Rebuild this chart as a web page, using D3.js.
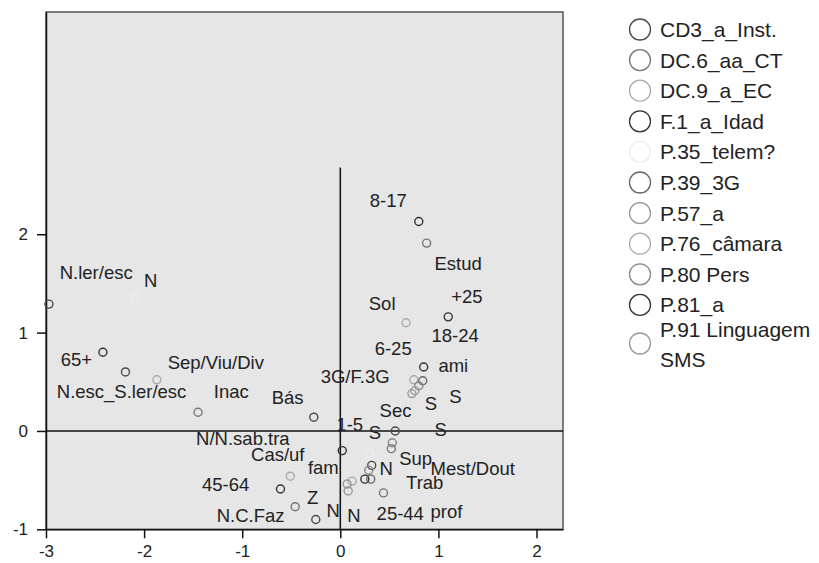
<!DOCTYPE html>
<html>
<head>
<meta charset="utf-8">
<script src="https://cdn.jsdelivr.net/npm/d3@7"></script>
<style>
  body { margin: 0; background: #fff; }
  text { font-family: "Liberation Sans", Arial, sans-serif; }
</style>
</head>
<body>
<svg id="chart" width="819" height="563"></svg>
<script>
  'use strict';

  // legend series, in order
  var series = ['CD3_a_Inst.', 'DC.6_aa_CT', 'DC.9_a_EC', 'F.1_a_Idad', 'P.35_telem?',
    'P.39_3G', 'P.57_a', 'P.76_câmara', 'P.80 Pers', 'P.81_a', 'P.91 Linguagem SMS'];
  var seriesColor = ['#4a4a4a', '#777', '#aaa', '#333', '#eee',
    '#666', '#999', '#aaa', '#888', '#333', '#999'];

  // category points: [series index, category, dim1, dim2]
  var points = [
    [0, 'N.ler/esc', -2.97, 1.29],
    [4, 'N', -2.09, 1.36],
    [3, '65+', -2.42, 0.80],
    [0, 'N.esc_S.ler/esc', -2.19, 0.60],
    [2, 'Sep/Viu/Div', -1.87, 0.52],
    [1, 'Inac', -1.45, 0.19],
    [0, 'Bás', -0.27, 0.14],
    [3, '8-17', 0.80, 2.13],
    [1, 'Estud', 0.88, 1.91],
    [3, '18-24', 1.10, 1.16],
    [2, 'Sol', 0.67, 1.10],
    [9, 'ami', 0.85, 0.65],
    [7, 'S', 0.75, 0.52],
    [5, '3G/F.3G', 0.84, 0.51],
    [8, '6-25', 0.80, 0.46],
    [6, 'S', 0.76, 0.41],
    [10, 'S', 0.73, 0.38],
    [0, 'Sec', 0.56, 0.00],
    [8, '+25', 0.53, -0.12],
    [1, 'N/N.sab.tra', 0.52, -0.18],
    [9, 'fam', 0.02, -0.20],
    [4, 'S', 0.30, -0.23],
    [0, 'Sup', 0.32, -0.35],
    [8, '1-5', 0.29, -0.40],
    [3, '25-44', 0.25, -0.49],
    [5, 'N', 0.31, -0.49],
    [7, 'N', 0.12, -0.51],
    [6, 'N', 0.07, -0.54],
    [10, 'N', 0.08, -0.61],
    [2, 'Cas/uf', -0.51, -0.46],
    [3, '45-64', -0.61, -0.59],
    [1, 'N.C.Faz', -0.46, -0.77],
    [0, 'Mest/Dout', -0.25, -0.90],
    [1, 'Trab', 0.44, -0.63]
  ];

  // point labels as placed in the plot: [text, dim1, dim2]
  var labels = [
    ['8-17', 0.30, 2.28], ['Estud', 0.96, 1.64], ['+25', 1.13, 1.30], ['Sol', 0.29, 1.23],
    ['18-24', 0.93, 0.90], ['6-25', 0.35, 0.77], ['ami', 1.00, 0.60], ['3G/F.3G', -0.20, 0.49],
    ['S', 1.11, 0.28], ['S', 0.86, 0.21], ['Sec', 0.40, 0.14], ['1-5', -0.04, 0.00],
    ['S', 0.96, -0.05], ['S', 0.29, -0.08], ['Sup', 0.60, -0.35], ['N', 0.40, -0.45],
    ['Mest/Dout', 0.92, -0.45], ['Trab', 0.67, -0.59], ['prof', 0.92, -0.89], ['25-44', 0.37, -0.91],
    ['N', 0.07, -0.93], ['N', -0.14, -0.87], ['Z', -0.34, -0.74], ['fam', -0.33, -0.44],
    ['N.C.Faz', -1.26, -0.93], ['45-64', -1.41, -0.61], ['Cas/uf', -0.91, -0.31],
    ['N/N.sab.tra', -1.47, -0.14], ['Bás', -0.70, 0.27], ['Inac', -1.29, 0.34],
    ['N.esc_S.ler/esc', -2.89, 0.33], ['Sep/Viu/Div', -1.76, 0.63], ['65+', -2.85, 0.66],
    ['N', -2.00, 1.46], ['N.ler/esc', -2.86, 1.55]
  ];

  var xTicks = [-3, -2, -1, 0, 1, 2];
  var yTicks = [-1, 0, 1, 2];

  var svg = d3.select('#chart');
  var x = d3.scaleLinear().domain([-3, 2.27]).range([46, 563]);
  var y = d3.scaleLinear().domain([-1, 4.26]).range([529.3, 12]);
  var plain = function(d) { return String(d); };

  // plot area
  svg.append('rect')
    .attr('x', x(-3)).attr('y', y(4.26))
    .attr('width', x(2.27) - x(-3)).attr('height', y(-1) - y(4.26))
    .style('fill', '#e6e6e6').style('stroke', '#555').style('stroke-width', 1.5);

  // reference lines
  svg.append('line')
    .attr('x1', x(-3)).attr('x2', x(2.27)).attr('y1', y(0)).attr('y2', y(0))
    .style('stroke', '#111').style('stroke-width', 1.5);
  svg.append('line')
    .attr('x1', x(0)).attr('x2', x(0)).attr('y1', y(2.68)).attr('y2', y(-1))
    .style('stroke', '#111').style('stroke-width', 1.5);

  var xAxis = svg.append('g').attr('transform', 'translate(0,' + y(-1) + ')')
    .call(d3.axisBottom(x).tickValues(xTicks).tickFormat(plain)
      .tickSize(9).tickSizeOuter(0).tickPadding(7));
  var yAxis = svg.append('g').attr('transform', 'translate(' + x(-3) + ',0)')
    .call(d3.axisLeft(y).tickValues(yTicks).tickFormat(plain)
      .tickSize(9).tickSizeOuter(0).tickPadding(9));
  [xAxis, yAxis].forEach(function(ax) {
    ax.select('.domain').style('stroke', '#111').style('stroke-width', 1.5);
    ax.selectAll('line').style('stroke', '#111').style('stroke-width', 1.5);
    ax.selectAll('text').style('font-family', '"Liberation Sans", Arial, sans-serif')
      .style('font-size', '17px').style('fill', '#222');
  });

  // points
  svg.selectAll('.pt').data(points).enter().append('circle')
    .attr('class', 'pt')
    .attr('cx', function(d) { return x(d[2]); })
    .attr('cy', function(d) { return y(d[3]); })
    .attr('r', 4)
    .style('fill', 'none')
    .style('stroke', function(d) { return seriesColor[d[0]]; })
    .style('stroke-width', 1.4);

  // labels
  svg.selectAll('.lbl').data(labels).enter().append('text')
    .attr('class', 'lbl')
    .attr('x', function(d) { return x(d[1]); })
    .attr('y', function(d) { return y(d[2]); })
    .style('font-size', '18.5px').style('fill', '#222')
    .text(function(d) { return d[0]; });

  // legend
  var legend = svg.append('g');
  series.forEach(function(name, i) {
    var cy = 29.5 + i * 30.6;
    var lines = [[name, 7.5]];
    if (i === series.length - 1) {
      cy = 343.5;
      lines = [['P.91 Linguagem', -6.8], ['SMS', 23.2]];
    }
    legend.append('circle').attr('cx', 640).attr('cy', cy).attr('r', 10.5)
      .style('fill', 'none').style('stroke', seriesColor[i]).style('stroke-width', 1.3);
    lines.forEach(function(t) {
      legend.append('text')
        .attr('x', 660)
        .attr('y', cy + t[1])
        .style('font-size', '21px').style('fill', '#222')
        .text(t[0]);
    });
  });
</script>
</body>
</html>
